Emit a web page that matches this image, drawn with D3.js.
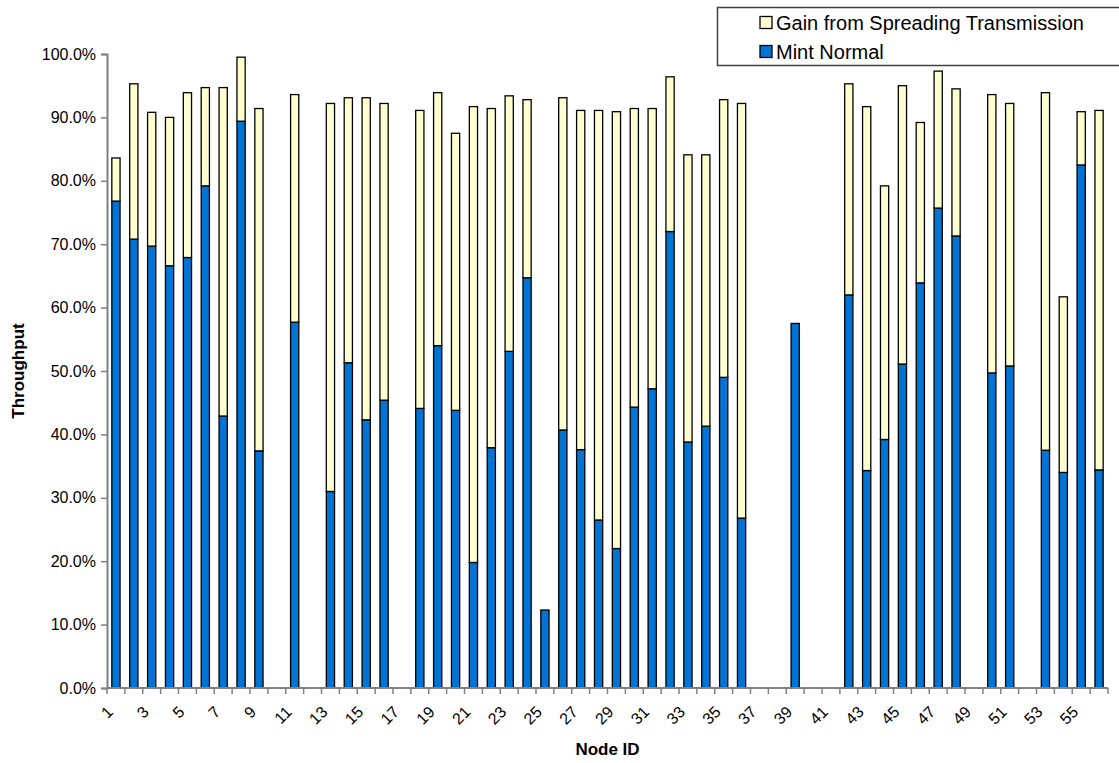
<!DOCTYPE html>
<html>
<head>
<meta charset="utf-8">
<script src="https://cdn.jsdelivr.net/npm/d3@7"></script>
<style>
  html, body { margin: 0; padding: 0; background: #fff; }
  svg { display: block; font-family: "Liberation Sans", Arial, sans-serif; }
</style>
</head>
<body>
<svg id="chart" width="1119" height="763"></svg>
<script>
// ---- Data ----
const nodeIds = d3.range(1, 57);
// Mint Normal throughput (%) per node (0 = no bar)
const mintNormal = [
  76.8, 70.8, 69.7, 66.6, 67.9, 79.2, 42.9, 89.4, 37.4, 0,
  57.7, 0, 31.0, 51.3, 42.3, 45.4, 0, 44.1, 54.0, 43.8,
  19.8, 37.9, 53.1, 64.7, 12.3, 40.7, 37.6, 26.5, 22.0, 44.3,
  47.2, 72.0, 38.8, 41.3, 49.0, 26.8, 0, 0, 57.5, 0,
  0, 62.0, 34.3, 39.2, 51.1, 63.9, 75.7, 71.3, 0, 49.7,
  50.8, 0, 37.5, 34.0, 82.5, 34.4
];
// Total throughput with spreading transmission (%) per node
const totalSpreading = [
  83.6, 95.3, 90.8, 90.0, 93.9, 94.7, 94.7, 99.5, 91.4, 0,
  93.6, 0, 92.2, 93.1, 93.1, 92.2, 0, 91.1, 93.9, 87.5,
  91.7, 91.4, 93.4, 92.8, 12.3, 93.1, 91.1, 91.1, 90.9, 91.4,
  91.4, 96.4, 84.1, 84.1, 92.8, 92.2, 0, 0, 57.5, 0,
  0, 95.3, 91.7, 79.2, 95.0, 89.2, 97.3, 94.5, 0, 93.6,
  92.2, 0, 93.9, 61.7, 90.9, 91.1
];
const yTicks = [0, 10, 20, 30, 40, 50, 60, 70, 80, 90, 100];
const xTickLabels = nodeIds.filter(d => d % 2 === 1);
const seriesNames = ["Gain from Spreading Transmission", "Mint Normal"];
const seriesColors = ["#FFFFD0", "#0074D4"];

const rows = nodeIds.map((id, i) => ({
  id,
  mint: mintNormal[i],
  gain: Math.max(0, totalSpreading[i] - mintNormal[i])
}));

// ---- Layout ----
const svg = d3.select("#chart");
const margin = { left: 107, right: 11, top: 54, bottom: 75 };
const W = 1119, H = 763;
const plotRight = W - margin.right;
const plotBottom = H - margin.bottom;

const x = d3.scaleBand().domain(nodeIds).range([margin.left, plotRight]).padding(0);
const y = d3.scaleLinear().domain([0, 100]).range([plotBottom, margin.top]);
const barW = x.bandwidth() * 0.46;

const stack = d3.stack().keys(["mint", "gain"]);
const stacked = stack(rows);

const g = svg.append("g");
stacked.forEach((layer, li) => {
  g.append("g").selectAll("rect")
    .data(layer.filter(d => d[1] - d[0] > 0))
    .join("rect")
    .attr("x", d => x(d.data.id) + (x.bandwidth() - barW) / 2)
    .attr("y", d => y(d[1]))
    .attr("width", barW)
    .attr("height", d => y(d[0]) - y(d[1]))
    .attr("fill", li === 0 ? seriesColors[1] : seriesColors[0])
    .attr("stroke", "#000")
    .attr("stroke-width", 1.3);
});

// ---- Y axis ----
const yAxis = d3.axisLeft(y).tickValues(yTicks).tickSize(6).tickPadding(5)
  .tickFormat(d => d.toFixed(1) + "%");
const yg = svg.append("g").attr("transform", `translate(${margin.left},0)`).call(yAxis);
yg.select(".domain").attr("stroke", "#808080").attr("stroke-width", 2);
yg.selectAll(".tick line").attr("stroke", "#808080").attr("stroke-width", 1.5);
yg.selectAll(".tick text").attr("font-size", 16).attr("fill", "#000");

// ---- X axis ----
const xg = svg.append("g").attr("transform", `translate(0,${plotBottom})`);
xg.append("line")
  .attr("x1", margin.left).attr("x2", plotRight)
  .attr("stroke", "#808080").attr("stroke-width", 2);
const boundaries = nodeIds.map(id => x(id)).concat([x(nodeIds[nodeIds.length - 1]) + x.bandwidth()]);
xg.selectAll("line.tk").data(boundaries).join("line").attr("class", "tk")
  .attr("x1", d => d).attr("x2", d => d).attr("y1", 0).attr("y2", 6)
  .attr("stroke", "#808080").attr("stroke-width", 1.5);
xg.selectAll("text.xl").data(xTickLabels).join("text").attr("class", "xl")
  .attr("transform", d => `translate(${x(d) + x.bandwidth() / 2 - 2},${25}) rotate(-45)`)
  .attr("text-anchor", "end")
  .attr("font-size", 16)
  .attr("fill", "#000")
  .text(d => d);

// ---- Axis titles ----
svg.append("text")
  .attr("x", (margin.left + plotRight) / 2).attr("y", 755)
  .attr("text-anchor", "middle").attr("font-size", 17).attr("font-weight", "bold")
  .text("Node ID");
svg.append("text")
  .attr("transform", `translate(24,${(margin.top + plotBottom) / 2}) rotate(-90)`)
  .attr("text-anchor", "middle").attr("font-size", 17).attr("font-weight", "bold")
  .text("Throughput");

// ---- Legend ----
const lg = svg.append("g");
lg.append("rect").attr("x", 717.5).attr("y", 7.5).attr("width", 420).attr("height", 58)
  .attr("fill", "#fff").attr("stroke", "#404040").attr("stroke-width", 1.5);
seriesNames.forEach((name, i) => {
  const cy = 22.5 + i * 29;
  lg.append("rect").attr("x", 760).attr("y", cy - 6).attr("width", 12).attr("height", 12)
    .attr("fill", seriesColors[i]).attr("stroke", "#000").attr("stroke-width", 1.3);
  lg.append("text").attr("x", 776).attr("y", cy).attr("dy", "0.35em")
    .attr("font-size", 20).attr("fill", "#000").text(name);
});
</script>
</body>
</html>
